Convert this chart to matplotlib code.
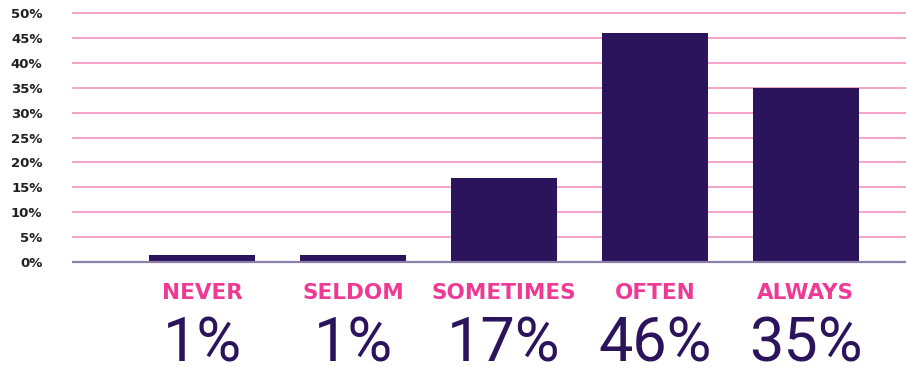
import numpy as np
import matplotlib
matplotlib.use('Agg')
import matplotlib.pyplot as plt

# Data
categories = ['NEVER', 'SELDOM', 'SOMETIMES', 'OFTEN', 'ALWAYS']
bar_values = [1.4, 1.4, 16.8, 46.0, 35.0]
value_labels = ['1%', '1%', '17%', '46%', '35%']
y_ticks = [0, 5, 10, 15, 20, 25, 30, 35, 40, 45, 50]

bar_color = '#2b145b'
grid_color = '#f5a3c9'
cat_color = '#ee3a94'

fig = plt.figure(figsize=(9.07, 3.72), dpi=100)
ax = fig.add_axes([73 / 907, 1 - 262 / 372, (905 - 73) / 907, (262 - 13) / 372])

x_pos = np.arange(len(categories))
ax.bar(x_pos, bar_values, width=0.70, color=bar_color, zorder=3)

ax.set_xlim(-0.854, 4.656)
ax.set_ylim(0, 50)

# pink horizontal gridlines
for t in y_ticks[1:]:
    ax.axhline(t, color=grid_color, lw=1.4, zorder=1, clip_on=False)
ax.axhline(0, color='#8c80ab', lw=1.6, zorder=4, clip_on=False)

for s in ax.spines.values():
    s.set_visible(False)
ax.set_xticks([])
ax.set_yticks(y_ticks)
ax.set_yticklabels([f'{t}%' for t in y_ticks], fontsize=9.5, fontweight='bold',
                   color='#231f20', family='DejaVu Sans')
ax.tick_params(axis='y', length=0, pad=22)

# category names and big percentage values under the bars
for i, (cat, lab) in enumerate(zip(categories, value_labels)):
    ax.annotate(cat, xy=(i, 0), xytext=(0, -31), textcoords='offset pixels',
                ha='center', va='center', fontsize=15.5, fontweight='bold',
                color=cat_color, family='DejaVu Sans')
    ax.annotate(lab, xy=(i, 0), xytext=(0, -82), textcoords='offset pixels',
                ha='center', va='center', fontsize=44, fontweight='normal',
                color=bar_color, family='Roboto')

fig.savefig('out.png', dpi=100)
plt.close()
